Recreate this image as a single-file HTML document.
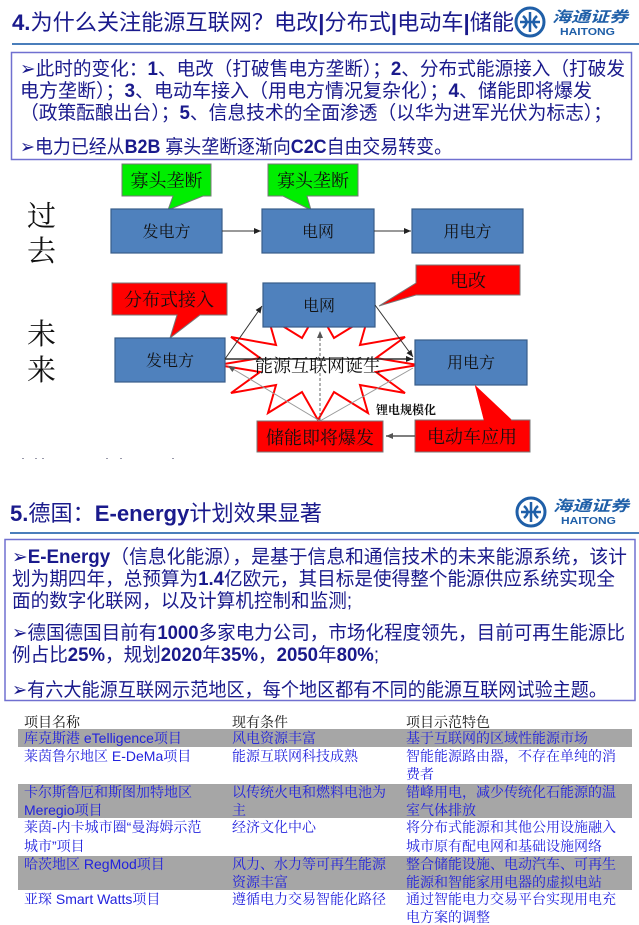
<!DOCTYPE html>
<html><head><meta charset="utf-8">
<style>
html,body{margin:0;padding:0;background:#fff;}
svg{display:block;}
.t{font-family:"Liberation Sans","Noto Sans CJK SC",sans-serif;}
.s{font-family:"Liberation Serif","Noto Serif CJK SC",serif;}
.m{font-family:"Liberation Sans","Noto Serif CJK SC",sans-serif;}
</style></head><body>
<svg width="639" height="925" viewBox="0 0 639 925" xmlns="http://www.w3.org/2000/svg">
<defs>
<marker id="ah" markerWidth="8" markerHeight="8" refX="7" refY="4" orient="auto" markerUnits="userSpaceOnUse">
<path d="M0,1 L7,4 L0,7 z" fill="#222"/></marker>
<marker id="ag" markerWidth="8" markerHeight="8" refX="7" refY="4" orient="auto" markerUnits="userSpaceOnUse">
<path d="M0,1 L7,4 L0,7 z" fill="#555"/></marker>
</defs>

<text class="t" x="12" y="30" font-size="22" fill="#1a1a8c" textLength="502" lengthAdjust="spacingAndGlyphs"><tspan font-weight="bold">4.</tspan>为什么关注能源互联网？电改<tspan font-weight="bold">|</tspan>分布式<tspan font-weight="bold">|</tspan>电动车<tspan font-weight="bold">|</tspan>储能</text>
<g>
<circle cx="530" cy="22" r="14" fill="none" stroke="#1f5fa8" stroke-width="3"/>
<path d="M520,22 H540 M530,12 V32 M523,16 Q530,22 523,28 M537,16 Q530,22 537,28" stroke="#1f5fa8" stroke-width="2.5" fill="none"/>
<text class="t" x="552" y="22" font-size="15" fill="#1f5fa8" font-style="italic" font-weight="bold" textLength="76" lengthAdjust="spacingAndGlyphs">海通证券</text>
<text class="t" x="560" y="35" font-size="10" fill="#1f5fa8" font-weight="bold" textLength="55" lengthAdjust="spacingAndGlyphs">HAITONG</text>
</g>
<line x1="12" y1="44" x2="639" y2="44" stroke="#4a7ebb" stroke-width="2"/>
<rect x="11.5" y="52.5" width="620" height="107" fill="#fff" stroke="#7070d0" stroke-width="1.5"/>
<g class="t" font-size="19" fill="#1a1a8c">
<text x="20" y="75" textLength="605" lengthAdjust="spacingAndGlyphs">➢此时的变化：<tspan font-weight="bold">1</tspan>、电改（打破售电方垄断）；<tspan font-weight="bold">2</tspan>、分布式能源接入（打破发</text>
<text x="20" y="97" textLength="572" lengthAdjust="spacingAndGlyphs">电方垄断）；<tspan font-weight="bold">3</tspan>、电动车接入（用电方情况复杂化）；<tspan font-weight="bold">4</tspan>、储能即将爆发</text>
<text x="20" y="119" textLength="592" lengthAdjust="spacingAndGlyphs">（政策酝酿出台）；<tspan font-weight="bold">5</tspan>、信息技术的全面渗透（以华为进军光伏为标志）；</text>
<text x="20" y="153" textLength="432" lengthAdjust="spacingAndGlyphs">➢电力已经从<tspan font-weight="bold">B2B</tspan> 寡头垄断逐渐向<tspan font-weight="bold">C2C</tspan>自由交易转变。</text>
</g>

<g class="s">
<text x="27" y="226" font-size="29" fill="#111">过</text>
<text x="27" y="261" font-size="29" fill="#111">去</text>
<text x="27" y="344" font-size="29" fill="#111">未</text>
<text x="27" y="380" font-size="29" fill="#111">来</text>

<path d="M122,164 H211 V196 H203 L168,210 L173,196 H122 Z" fill="#00ee00" stroke="#777" stroke-width="1"/>
<text x="166.5" y="187" font-size="18" text-anchor="middle" fill="#111">寡头垄断</text>
<path d="M268,164 H358 V196 H307 L311,210 L283,196 H268 Z" fill="#00ee00" stroke="#777" stroke-width="1"/>
<text x="313" y="187" font-size="18" text-anchor="middle" fill="#111">寡头垄断</text>

<rect x="111" y="209" width="111" height="44" fill="#4f81bd" stroke="#385d8a" stroke-width="1.2"/>
<text x="166.5" y="237" font-size="16" text-anchor="middle" fill="#111">发电方</text>
<rect x="262" y="209" width="112" height="44" fill="#4f81bd" stroke="#385d8a" stroke-width="1.2"/>
<text x="318" y="237" font-size="16" text-anchor="middle" fill="#111">电网</text>
<rect x="412" y="209" width="111" height="44" fill="#4f81bd" stroke="#385d8a" stroke-width="1.2"/>
<text x="467.5" y="237" font-size="16" text-anchor="middle" fill="#111">用电方</text>
<line x1="222" y1="231" x2="261" y2="231" stroke="#333" stroke-width="1" marker-end="url(#ah)"/>
<line x1="374" y1="231" x2="411" y2="231" stroke="#333" stroke-width="1" marker-end="url(#ah)"/>

<polygon points="418,365 376,358 405,337 360,345 368,317 334,338 318,310 302,338 268,317 276,345 231,337 260,358 218,365 260,372 231,393 276,385 268,413 302,392 318,420 334,392 368,413 360,385 405,393 376,372" fill="#fff" stroke="#ff0000" stroke-width="2"/>

<path d="M112,283 H227 V315 H200 L170,338 L177,315 H112 Z" fill="#ff0000" stroke="#777" stroke-width="1"/>
<text x="169" y="306" font-size="18" text-anchor="middle" fill="#111">分布式接入</text>
<path d="M416,265 H520 V295 H416 L379,306 L416,283 Z" fill="#ff0000" stroke="#777" stroke-width="1"/>
<text x="468" y="287" font-size="18" text-anchor="middle" fill="#111">电改</text>

<rect x="263" y="283" width="112" height="44" fill="#4f81bd" stroke="#385d8a" stroke-width="1.2"/>
<text x="319" y="311" font-size="16" text-anchor="middle" fill="#111">电网</text>
<rect x="115" y="338" width="110" height="44" fill="#4f81bd" stroke="#385d8a" stroke-width="1.2"/>
<text x="170" y="366" font-size="16" text-anchor="middle" fill="#111">发电方</text>
<rect x="415" y="340" width="112" height="45" fill="#4f81bd" stroke="#385d8a" stroke-width="1.2"/>
<text x="471" y="368" font-size="16" text-anchor="middle" fill="#111">用电方</text>

<path d="M475,385 L484,420 H512 Z" fill="#ff0000"/>
<rect x="415" y="420" width="115" height="32" fill="#ff0000" stroke="#777" stroke-width="1"/>
<path d="M475,386 L484,421 H512" fill="#ff0000" stroke="none"/>
<text x="472" y="443" font-size="18" text-anchor="middle" fill="#111">电动车应用</text>
<rect x="257" y="421" width="126" height="31" fill="#ff0000" stroke="#777" stroke-width="1"/>
<text x="320" y="444" font-size="18" text-anchor="middle" fill="#111">储能即将爆发</text>
<line x1="415" y1="436" x2="386" y2="436" stroke="#555" stroke-width="1.5" marker-end="url(#ag)"/>
<text x="376" y="414" font-size="12" font-weight="bold" fill="#111">锂电规模化</text>

<line x1="225" y1="359" x2="262" y2="306" stroke="#333" stroke-width="1" marker-end="url(#ah)"/>
<line x1="375" y1="305" x2="413" y2="357" stroke="#333" stroke-width="1" marker-end="url(#ah)"/>
<line x1="225" y1="359" x2="413" y2="359" stroke="#333" stroke-width="1.5" marker-end="url(#ah)"/>
<line x1="320" y1="421" x2="228" y2="366" stroke="#999" stroke-width="1" marker-end="url(#ag)"/>
<line x1="320" y1="421" x2="413" y2="368" stroke="#999" stroke-width="1"/>
<line x1="320" y1="421" x2="320" y2="331" stroke="#666" stroke-width="1" stroke-dasharray="3,2" marker-end="url(#ag)"/>
<text x="318" y="372" font-size="18" text-anchor="middle" fill="#111">能源互联网诞生</text>
</g>
<g fill="#99a"><rect x="22" y="458" width="2" height="1"/><rect x="35" y="458" width="2" height="1"/><rect x="42" y="458" width="2" height="1"/><rect x="106" y="458" width="2" height="1"/><rect x="120" y="458" width="2" height="1"/><rect x="172" y="458" width="2" height="1"/></g>

<text class="t" x="10" y="521" font-size="22" fill="#1a1a8c" textLength="312" lengthAdjust="spacingAndGlyphs"><tspan font-weight="bold">5.</tspan>德国：<tspan font-weight="bold">E-energy</tspan>计划效果显著</text>
<g>
<circle cx="531" cy="512" r="14" fill="none" stroke="#1f5fa8" stroke-width="3"/>
<path d="M521,512 H541 M531,502 V522 M524,506 Q531,512 524,518 M538,506 Q531,512 538,518" stroke="#1f5fa8" stroke-width="2.5" fill="none"/>
<text class="t" x="553" y="511" font-size="15" fill="#1f5fa8" font-style="italic" font-weight="bold" textLength="76" lengthAdjust="spacingAndGlyphs">海通证券</text>
<text class="t" x="561" y="524" font-size="10" fill="#1f5fa8" font-weight="bold" textLength="55" lengthAdjust="spacingAndGlyphs">HAITONG</text>
</g>
<line x1="10" y1="533" x2="639" y2="533" stroke="#4a7ebb" stroke-width="2"/>
<rect x="5" y="539.5" width="630" height="161" fill="#fff" stroke="#7070d0" stroke-width="1.5"/>
<g class="t" font-size="19" fill="#1a1a8c">
<text x="12" y="563" textLength="615" lengthAdjust="spacingAndGlyphs">➢<tspan font-weight="bold">E-Energy</tspan>（信息化能源），是基于信息和通信技术的未来能源系统，该计</text>
<text x="12" y="585" textLength="603" lengthAdjust="spacingAndGlyphs">划为期四年，总预算为<tspan font-weight="bold">1.4</tspan>亿欧元，其目标是使得整个能源供应系统实现全</text>
<text x="12" y="607" textLength="340" lengthAdjust="spacingAndGlyphs">面的数字化联网，以及计算机控制和监测;</text>
<text x="12" y="639" textLength="613" lengthAdjust="spacingAndGlyphs">➢德国德国目前有<tspan font-weight="bold">1000</tspan>多家电力公司，市场化程度领先，目前可再生能源比</text>
<text x="12" y="661" textLength="367" lengthAdjust="spacingAndGlyphs">例占比<tspan font-weight="bold">25%</tspan>，规划<tspan font-weight="bold">2020</tspan>年<tspan font-weight="bold">35%</tspan>，<tspan font-weight="bold">2050</tspan>年<tspan font-weight="bold">80%</tspan>;</text>
<text x="12" y="696" textLength="595" lengthAdjust="spacingAndGlyphs">➢有六大能源互联网示范地区，每个地区都有不同的能源互联网试验主题。</text>
</g>

<rect x="18" y="729" width="614" height="18" fill="#a6a6a6"/>
<rect x="18" y="784" width="614" height="34" fill="#a6a6a6"/>
<rect x="18" y="856" width="614" height="34" fill="#a6a6a6"/>
<g class="m" font-size="14" fill="#111">
<text x="24" y="727">项目名称</text><text x="232" y="727">现有条件</text><text x="406" y="727">项目示范特色</text>
</g>
<g class="m" font-size="14" fill="#2222dd">
<text x="24" y="743">库克斯港 eTelligence项目</text><text x="232" y="743">风电资源丰富</text><text x="406" y="743">基于互联网的区域性能源市场</text>
<text x="24" y="761">莱茵鲁尔地区 E-DeMa项目</text><text x="232" y="761">能源互联网科技成熟</text><text x="406" y="761">智能能源路由器，不存在单纯的消</text>
<text x="406" y="779">费者</text>
<text x="24" y="797">卡尔斯鲁厄和斯图加特地区</text><text x="232" y="797">以传统火电和燃料电池为</text><text x="406" y="797">错峰用电，减少传统化石能源的温</text>
<text x="24" y="815">Meregio项目</text><text x="232" y="815">主</text><text x="406" y="815">室气体排放</text>
<text x="24" y="832">莱茵-内卡城市圈“曼海姆示范</text><text x="232" y="832">经济文化中心</text><text x="406" y="832">将分布式能源和其他公用设施融入</text>
<text x="24" y="851">城市”项目</text><text x="406" y="851">城市原有配电网和基础设施网络</text>
<text x="24" y="869">哈茨地区 RegMod项目</text><text x="232" y="869">风力、水力等可再生能源</text><text x="406" y="869">整合储能设施、电动汽车、可再生</text>
<text x="232" y="887">资源丰富</text><text x="406" y="887">能源和智能家用电器的虚拟电站</text>
<text x="24" y="904">亚琛 Smart Watts项目</text><text x="232" y="904">遵循电力交易智能化路径</text><text x="406" y="904">通过智能电力交易平台实现用电充</text>
<text x="406" y="922">电方案的调整</text>
</g>
</svg>
</body></html>
